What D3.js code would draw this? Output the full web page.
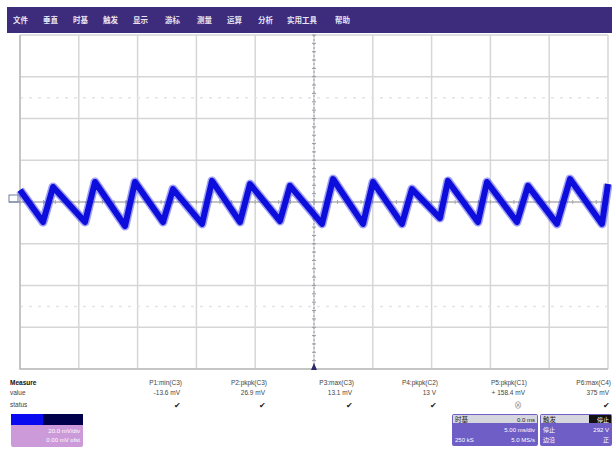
<!DOCTYPE html>
<html><head><meta charset="utf-8">
<script src="https://cdn.jsdelivr.net/npm/d3@7"></script>
<style>body{margin:0;background:#fff}svg{display:block}text{font-family:"Liberation Sans","Noto Sans CJK SC",sans-serif}</style>
</head><body>
<svg id="c" width="612" height="450"></svg>
<script>
// ---- data ----
const menuItems = ["文件","垂直","时基","触发","显示","游标","测量","运算","分析","实用工具","帮助"];
// waveform key points (time in ms, voltage in mV), C3 trace, 5 ms/div, 20 mV/div
const timeMs = [-25.0,-23.04,-22.19,-19.47,-18.62,-16.07,-15.22,-12.84,-11.99,-9.52,-8.67,-6.29,-5.44,-2.89,-2.04,0.68,1.62,4.17,5.02,7.48,8.33,10.71,11.39,13.94,14.71,17.26,18.20,20.66,21.77,24.49,25.0];
const voltMv = [5.7,-9.6,7.2,-9.6,9.6,-11.5,9.6,-9.6,6.2,-10.5,10.1,-9.6,8.6,-9.1,7.7,-10.5,11.0,-10.5,9.6,-10.5,6.2,-7.7,10.1,-9.6,9.6,-9.6,7.7,-10.5,11.0,-10.5,8.6];
const measLabels = ["P1:min(C3)","P2:pkpk(C3)","P3:max(C3)","P4:pkpk(C2)","P5:pkpk(C1)","P6:max(C4)"];
const measValues = ["-13.6 mV","26.9 mV","13.1 mV","13 V","+ 158.4 mV","375 mV"];
const measStatus = ["✔","✔","✔","✔","⊗","✔"];
const rowLabels = ["Measure","value","status"];
const chanInfo = ["20.0 mV/div","0.00 mV ofst"];
const timebase = {title:"时基", delay:"0.0 ms", scale:"5.00 ms/div", samples:"250 kS", rate:"5.0 MS/s"};
const trigger = {title:"触发", state:"停止", r1l:"停止", r1r:"292 V", r2l:"边沿", r2r:"正"};

const svg = d3.select("#c");
const defs = svg.append("defs");
defs.append("filter").attr("id","soft").append("feGaussianBlur").attr("stdDeviation",0.7);
const L=20, R=608, T=35, B=369;
const x = d3.scaleLinear().domain([-25,25]).range([L,R]);
const y = d3.scaleLinear().domain([-80,80]).range([B,T]);

// menu bar
svg.append("rect").attr("x",7).attr("y",7).attr("width",605).attr("height",26).attr("fill","#3d2c7c");
const menuX = [13,43,73,103,133,165,197,227,258,287,335];
svg.selectAll("text.menu").data(menuItems).join("text").attr("class","menu")
  .attr("x",(d,i)=>menuX[i]).attr("y",23).attr("fill","#e8e6f4").attr("font-size",7.5)
  .attr("font-family","Noto Sans CJK SC").attr("font-weight","bold").text(d=>d);

// grid
const g = svg.append("g");
const xt = d3.range(-25,25.01,5), yt = d3.range(-80,80.01,20);
g.selectAll("line.v").data(xt).join("line").attr("x1",d=>x(d)).attr("x2",d=>x(d)).attr("y1",T).attr("y2",B)
  .attr("stroke","#d6d6d6").attr("stroke-width",1.5);
g.selectAll("line.h").data(yt).join("line").attr("y1",d=>y(d)).attr("y2",d=>y(d)).attr("x1",L).attr("x2",R)
  .attr("stroke","#d6d6d6").attr("stroke-width",1.5);
// faint dotted sub lines
[50,-50].forEach(v=>g.append("line").attr("x1",L).attr("x2",R).attr("y1",y(v)).attr("y2",y(v))
  .attr("stroke","#e4e4e4").attr("stroke-width",1.5).attr("stroke-dasharray","3,6"));
// frame
g.append("path").attr("d",`M${L},${T}V${B}H${R}`).attr("fill","none").attr("stroke","#bcbcbc").attr("stroke-width",1.5);
// center axes with minor ticks
g.append("line").attr("x1",x(0)).attr("x2",x(0)).attr("y1",T).attr("y2",B).attr("stroke","#9a9aaa").attr("stroke-width",1).attr("stroke-dasharray","2,2");
g.append("line").attr("x1",L).attr("x2",R).attr("y1",y(0)).attr("y2",y(0)).attr("stroke","#a8a8a8").attr("stroke-width",1.2);
const ym = d3.range(-80,80.01,4), xm = d3.range(-25,25.01,1);
g.selectAll("line.ym").data(ym).join("line").attr("x1",x(0)-2).attr("x2",x(0)+2).attr("y1",d=>y(d)).attr("y2",d=>y(d)).attr("stroke","#9a9aaa");
g.selectAll("line.xm").data(xm).join("line").attr("y1",y(0)-2).attr("y2",y(0)+2).attr("x1",d=>x(d)).attr("x2",d=>x(d)).attr("stroke","#a8a8a8");
// trigger marker
svg.append("path").attr("d",`M${x(0)-3},${B+1}L${x(0)+3},${B+1}L${x(0)},${B-6}Z`).attr("fill","#2a2a6a");
// channel marker
svg.append("rect").attr("x",9).attr("y",y(0)-7).attr("width",9).attr("height",7).attr("fill","#fff").attr("stroke","#6f7f9f");
svg.append("line").attr("x1",9).attr("x2",20).attr("y1",y(0)).attr("y2",y(0)).attr("stroke","#6f7f9f");

// waveform
const pts = timeMs.map((t,i)=>[t,voltMv[i]]);
const line = d3.line().x(d=>x(d[0])).y(d=>y(d[1]));
svg.append("path").datum(pts).attr("d",line).attr("fill","none").attr("stroke","#2a2af0").attr("stroke-opacity",0.45)
  .attr("stroke-width",9).attr("stroke-linejoin","round").attr("filter","url(#soft)");
svg.append("path").datum(pts).attr("d",line).attr("fill","none").attr("stroke","#1010dc")
  .attr("stroke-width",6).attr("stroke-linejoin","round").attr("filter","url(#soft)");

// measurement table
const rowY=[385,395,407];
svg.selectAll("text.row").data(rowLabels).join("text").attr("x",10).attr("y",(d,i)=>rowY[i])
  .attr("font-size",6.5).attr("font-weight",(d,i)=>i==0?"bold":"normal").attr("fill",(d,i)=>i==0?"#111":"#444").text(d=>d);
const colR=[182,267,354,438,527,611];
svg.selectAll("text.ml").data(measLabels).join("text").attr("x",(d,i)=>colR[i]).attr("y",rowY[0]).attr("text-anchor","end")
  .attr("font-size",6.5).attr("fill","#444").text(d=>d);
svg.selectAll("text.mv").data(measValues).join("text").attr("x",(d,i)=>colR[i]-2).attr("y",rowY[1]).attr("text-anchor","end")
  .attr("font-size",6.5).attr("fill","#444").text(d=>d);
svg.selectAll("text.ms").data(measStatus).join("text").attr("x",(d,i)=>colR[i]-(i==4?5:1)).attr("y",rowY[2]+1).attr("text-anchor","end")
  .attr("font-family","DejaVu Sans").attr("font-size",8).attr("fill",(d,i)=>i==4?"#888":"#222").text(d=>d);

// channel descriptor
svg.append("rect").attr("x",11).attr("y",414).attr("width",72).attr("height",33).attr("rx",2).attr("fill","#cc9ad8");
svg.append("rect").attr("x",11).attr("y",414).attr("width",72).attr("height",11).attr("fill","#00004a");
svg.append("rect").attr("x",11).attr("y",414).attr("width",32).attr("height",11).attr("fill","#0a0af0");
svg.selectAll("text.ch").data(chanInfo).join("text").attr("x",80).attr("y",(d,i)=>433+i*9).attr("text-anchor","end")
  .attr("font-size",6).attr("fill","#fff").text(d=>d);

// timebase / trigger boxes
function box(x0,w){
  svg.append("rect").attr("x",x0).attr("y",414).attr("width",w).attr("height",32).attr("rx",2).attr("fill","#6e5ec6");
  svg.append("rect").attr("x",x0+1).attr("y",415).attr("width",w-2).attr("height",8).attr("fill","#d6d6de");
}
box(452,86); box(540,72);
const tx=(s,xx,yy,anchor,fill,fs)=>svg.append("text").attr("x",xx).attr("y",yy).attr("text-anchor",anchor||"start")
  .attr("font-size",fs||6).attr("fill",fill||"#fff").attr("font-family","Liberation Sans, Noto Sans CJK SC").text(s);
tx(timebase.title,455,421.5,"start","#222",6.5); tx(timebase.delay,535,421.5,"end","#222");
tx(timebase.scale,535,432,"end"); tx(timebase.samples,455,442); tx(timebase.rate,535,442,"end");
svg.append("rect").attr("x",589).attr("y",415).attr("width",22).attr("height",8).attr("fill","#111");
tx(trigger.title,543,421.5,"start","#222",6.5); tx(trigger.state,609,421.5,"end","#fff");
tx(trigger.r1l,543,432); tx(trigger.r1r,609,432,"end"); tx(trigger.r2l,543,442); tx(trigger.r2r,609,442,"end");
</script>
</body></html>
